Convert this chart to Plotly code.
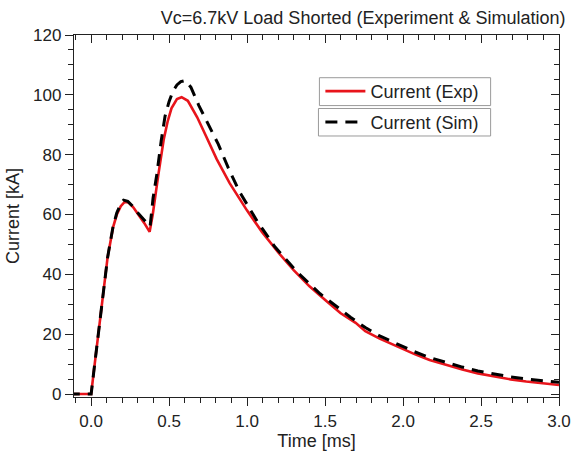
import plotly.graph_objects as go

# Experimental current (kA) vs time (ms)
t_exp = [-0.15, 0.0, 0.02, 0.039, 0.064, 0.087, 0.105, 0.122, 0.14, 0.164, 0.19, 0.215, 0.24,
         0.27, 0.3, 0.34, 0.375, 0.395, 0.43, 0.465, 0.49, 0.515, 0.55, 0.58, 0.62, 0.68, 0.74,
         0.805, 0.888, 0.95, 1.0, 1.095, 1.2, 1.30, 1.4, 1.51, 1.6, 1.696, 1.758, 1.85,
         1.965, 2.07, 2.17, 2.28, 2.38, 2.48, 2.586, 2.69, 2.79, 2.9, 3.0]
i_exp = [0, 0, 8.8, 17.2, 28.2, 38.6, 45.5, 50.4, 55.6, 59.9, 62.8, 64.2, 64.0,
         62.4, 60.2, 57.2, 54.2, 60, 73, 85, 91, 95.5, 98.6, 99.2, 98, 92.5, 85.8,
         78.5, 70.5, 65.2, 61.3, 54.2, 47.3, 41.3, 36.0, 31.0, 27.0, 23.8, 21.0, 18.5,
         15.8, 13.4, 11.4, 9.6, 8.2, 6.9, 5.8, 4.9, 4.2, 3.5, 3.0]

# Simulated current (kA) vs time (ms)
t_sim = [-0.15, 0.0, 0.02, 0.039, 0.064, 0.087, 0.105, 0.122, 0.14, 0.164, 0.19, 0.208, 0.235,
         0.27, 0.3, 0.34, 0.378, 0.397, 0.422, 0.449, 0.474, 0.5, 0.526, 0.55, 0.575, 0.605,
         0.64, 0.69, 0.75, 0.815, 0.88, 0.95, 1.064, 1.178, 1.32, 1.468, 1.665, 1.758, 1.85,
         1.965, 2.07, 2.17, 2.28, 2.38, 2.48, 2.586, 2.69, 2.79, 2.9, 3.0]
i_sim = [0, 0, 8.8, 17.2, 28.2, 38.6, 45.5, 50.6, 55.8, 60.5, 63.6, 64.8, 64.4,
         62.6, 60.5, 58.2, 56, 65.5, 73.7, 84.6, 92.9, 97.8, 101.4, 103.3, 104.4, 104.8,
         102.5, 96.5, 90.5, 83.5, 75.5, 67.7, 57.8, 49.2, 40.8, 33.5, 25.6, 22.2, 19.4,
         16.6, 14.2, 12.2, 10.4, 9.0, 7.7, 6.6, 5.7, 5.0, 4.4, 3.9]

x_ticks = [0.0, 0.5, 1.0, 1.5, 2.0, 2.5, 3.0]
x_labels = ["0.0", "0.5", "1.0", "1.5", "2.0", "2.5", "3.0"]
y_ticks = [0, 20, 40, 60, 80, 100, 120]

FONT = "Arial, Liberation Sans, sans-serif"
AX = "#222222"

fig = go.Figure()
fig.add_trace(go.Scatter(x=t_exp, y=i_exp, mode="lines", name="Current (Exp)",
                         line=dict(color="#e8141b", width=2.6), legend="legend"))
fig.add_trace(go.Scatter(x=t_sim, y=i_sim, mode="lines", name="Current (Sim)",
                         line=dict(color="black", width=3, dash="12px,8px"), legend="legend2"))

xr = [-0.11, 3.0]
yr = [-1, 120]

common_y = dict(range=yr, tickvals=y_ticks, tickwidth=1.3, tickcolor=AX, showline=True,
                linecolor=AX, linewidth=1.4, showgrid=False, zeroline=False)
common_x = dict(range=xr, tickvals=x_ticks, tickwidth=1.3, tickcolor=AX, showline=True,
                linecolor=AX, linewidth=1.4, showgrid=False, zeroline=False)

legend_style = dict(xanchor="left", yanchor="middle", bgcolor="rgba(0,0,0,0)",
                    borderwidth=0, font=dict(size=18, color=AX), itemwidth=40, tracegroupgap=0)

fig.update_layout(
    width=583, height=457,
    margin=dict(l=69, r=12, t=35, b=57),
    paper_bgcolor="white", plot_bgcolor="white",
    font=dict(family=FONT, size=17, color=AX),
    title=dict(text="Vc=6.7kV Load Shorted (Experiment & Simulation)",
               xref="container", x=0.97, xanchor="right", yref="container", y=0.962, yanchor="middle",
               font=dict(family=FONT, size=18, color=AX)),
    xaxis=dict(**common_x, ticktext=x_labels, ticks="outside", ticklen=8,
               minor=dict(dtick=0.1, tick0=0, ticks="outside", ticklen=5, tickcolor=AX, tickwidth=1.1),
               tickfont=dict(size=17),
               title=dict(text="Time [ms]", standoff=2, font=dict(size=18))),
    yaxis=dict(**common_y, ticks="outside", ticklen=8,
               minor=dict(dtick=5, tick0=0, ticks="outside", ticklen=5, tickcolor=AX, tickwidth=1.1),
               tickfont=dict(size=17),
               title=dict(text="Current [kA]", standoff=8, font=dict(size=18))),
    xaxis2=dict(**common_x, overlaying="x", side="top", showticklabels=False,
                ticks="inside", ticklen=8,
                minor=dict(dtick=0.1, tick0=0, ticks="inside", ticklen=5, tickcolor=AX, tickwidth=1.1)),
    yaxis2=dict(**common_y, overlaying="y", side="right", showticklabels=False,
                ticks="inside", ticklen=8,
                minor=dict(dtick=5, tick0=0, ticks="inside", ticklen=5, tickcolor=AX, tickwidth=1.1)),
    legend=dict(x=0.508, y=0.844, **legend_style),
    legend2=dict(x=0.508, y=0.759, **legend_style),
    shapes=[
        dict(type="rect", xref="paper", yref="paper", x0=0.506, x1=0.859, y0=0.805, y1=0.882,
             line=dict(color="#9a9a9a", width=1), fillcolor="white", layer="below"),
        dict(type="rect", xref="paper", yref="paper", x0=0.504, x1=0.859, y0=0.721, y1=0.797,
             line=dict(color="#9a9a9a", width=1), fillcolor="white", layer="below"),
    ],
)

# invisible trace so the mirrored axes are rendered
fig.add_trace(go.Scatter(x=[xr[0]], y=[yr[0]], xaxis="x2", yaxis="y2", mode="markers",
                         marker=dict(opacity=0), showlegend=False, hoverinfo="skip"))

fig.write_html("out.html")
